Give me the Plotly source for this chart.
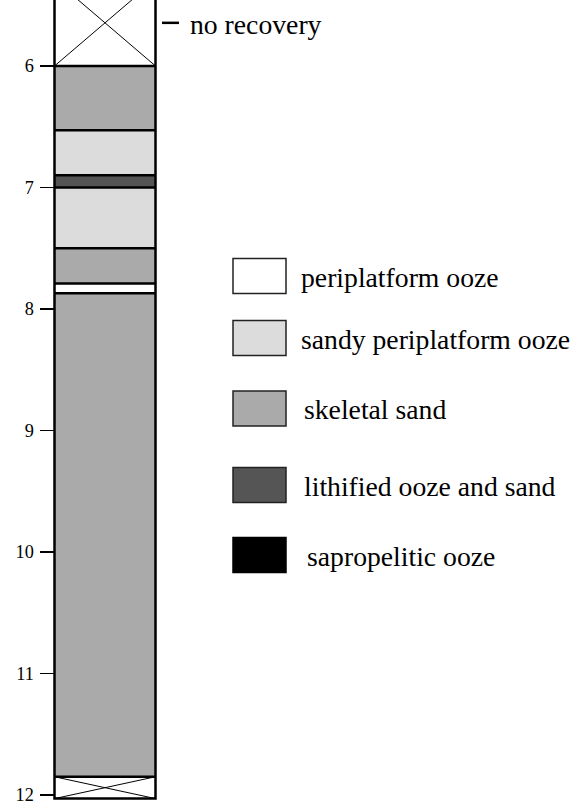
import plotly.graph_objects as go

# ---------------- data ----------------
layer_top = [5.29, 6.00, 6.53, 6.90, 7.00, 7.50, 7.79, 7.87, 11.85]
layer_bottom = [6.00, 6.53, 6.90, 7.00, 7.50, 7.79, 7.87, 11.85, 12.03]
layer_type = ["no recovery", "skeletal sand", "sandy periplatform ooze",
              "lithified ooze and sand", "sandy periplatform ooze", "skeletal sand",
              "periplatform ooze", "skeletal sand", "no recovery"]

legend_labels = ["periplatform ooze", "sandy periplatform ooze", "skeletal sand",
                 "lithified ooze and sand", "sapropelitic ooze"]
legend_colors = ["#ffffff", "#dcdcdc", "#aaaaaa", "#555555", "#000000"]

depth_ticks = [6, 7, 8, 9, 10, 11, 12]
no_recovery_label = "no recovery"

# ---------------- layout constants ----------------
W, H = 572, 809
PXM = 121.5                  # pixels per metre
Y_TOP = 5.457
Y_BOT = Y_TOP + H / PXM
COL_X0, COL_X1 = 54.5, 155.5
SERIF = '"Liberation Serif", "Times New Roman", Times, serif'

color_of = dict(zip(legend_labels, legend_colors))

def py(pix):
    return 1 - pix / H

shapes = []
annotations = []

for top, bot, kind in zip(layer_top, layer_bottom, layer_type):
    if kind == "no recovery":
        shapes.append(dict(type="rect", xref="x", yref="y", x0=COL_X0, x1=COL_X1,
                           y0=top, y1=bot, fillcolor="#ffffff", line=dict(width=0), layer="above"))
        shapes.append(dict(type="line", xref="x", yref="y", x0=COL_X0, x1=COL_X1,
                           y0=top, y1=bot, line=dict(color="black", width=1), layer="above"))
        shapes.append(dict(type="line", xref="x", yref="y", x0=COL_X0, x1=COL_X1,
                           y0=bot, y1=top, line=dict(color="black", width=1), layer="above"))
    else:
        shapes.append(dict(type="rect", xref="x", yref="y", x0=COL_X0, x1=COL_X1,
                           y0=top, y1=bot, fillcolor=color_of[kind], line=dict(width=0), layer="above"))

for b in layer_bottom[:-1]:
    shapes.append(dict(type="line", xref="x", yref="y", x0=COL_X0, x1=COL_X1,
                       y0=b, y1=b, line=dict(color="black", width=2.5), layer="above"))

shapes.append(dict(type="rect", xref="x", yref="y", x0=COL_X0, x1=COL_X1,
                   y0=layer_top[0], y1=layer_bottom[-1],
                   line=dict(color="black", width=2.5), fillcolor="rgba(0,0,0,0)", layer="above"))

mid_nr = (layer_top[0] + layer_bottom[0]) / 2
shapes.append(dict(type="line", xref="x", yref="y", x0=162, x1=179, y0=mid_nr, y1=mid_nr,
                   line=dict(color="black", width=2.5), layer="above"))
annotations.append(dict(x=188, y=mid_nr, xref="x", yref="y", text=no_recovery_label,
                        showarrow=False, xanchor="left", yanchor="middle", yshift=-2,
                        font=dict(family=SERIF, size=27.7, color="black")))

box_centers = [276, 338, 408.5, 485, 555]
text_x = [299, 299, 302, 302, 305]
for lab, col, cy, tx in zip(legend_labels, legend_colors, box_centers, text_x):
    shapes.append(dict(type="rect", xref="x", yref="paper", x0=233, x1=286,
                       y0=py(cy - 17.5), y1=py(cy + 17.5), fillcolor=col,
                       line=dict(color="#222222" if col != "#000000" else "#000000", width=1.5),
                       layer="above"))
    annotations.append(dict(x=tx, y=py(cy + 1), xref="x", yref="paper", text=lab,
                            showarrow=False, xanchor="left", yanchor="middle",
                            font=dict(family=SERIF, size=27.7, color="black")))

fig = go.Figure()
fig.add_trace(go.Scatter(x=[1], y=[6], mode="markers", marker=dict(opacity=0),
                         hoverinfo="skip", showlegend=False))

fig.update_layout(
    width=W, height=H,
    margin=dict(l=0, r=0, t=0, b=0),
    paper_bgcolor="white", plot_bgcolor="white",
    showlegend=False,
    font=dict(family=SERIF),
    xaxis=dict(range=[0, W], visible=False, domain=[0, 1], fixedrange=True),
    yaxis=dict(range=[Y_BOT, Y_TOP], anchor="free", position=COL_X0 / W, side="left",
               tickmode="array", tickvals=depth_ticks, ticktext=[str(t) for t in depth_ticks],
               ticks="outside", ticklen=15, tickwidth=1.2, tickcolor="black",
               ticklabelstandoff=2,
               showline=False, showgrid=False, zeroline=False,
               tickfont=dict(family=SERIF, size=18.3, color="black"),
               automargin=False, fixedrange=True),
    shapes=shapes,
    annotations=annotations,
)

post = (
    "document.body.style.margin='0';"
    "var gd=document.getElementById('{plot_id}');"
    "if(document.fonts&&document.fonts.load){"
    "document.fonts.load('28px \"Liberation Serif\"').then(function(){"
    "return document.fonts.ready;}).then(function(){Plotly.redraw(gd);});}"
)
fig.write_html("out.html", config={"displayModeBar": False, "staticPlot": True},
               post_script=post)
